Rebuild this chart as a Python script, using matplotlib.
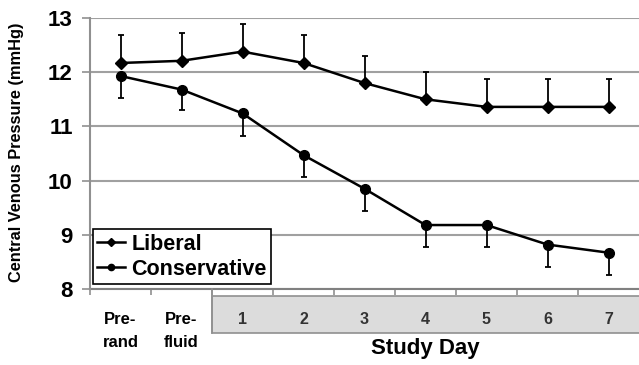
import numpy as np
import matplotlib
matplotlib.use("Agg")
from matplotlib import pyplot as plt
from matplotlib.lines import Line2D
from matplotlib.patches import Rectangle
from matplotlib.transforms import blended_transform_factory

categories = ["Pre-\nrand", "Pre-\nfluid", "1", "2", "3", "4", "5", "6", "7"]
liberal = [12.17, 12.21, 12.38, 12.17, 11.80, 11.50, 11.36, 11.36, 11.36]
liberal_err = [0.52, 0.51, 0.51, 0.52, 0.50, 0.51, 0.51, 0.51, 0.51]
conservative = [11.93, 11.68, 11.24, 10.47, 9.85, 9.18, 9.18, 8.82, 8.67]
conservative_err = [0.41, 0.38, 0.41, 0.40, 0.41, 0.40, 0.40, 0.41, 0.42]

plt.rcParams['font.family'] = ['Liberation Sans', 'DejaVu Sans']
plt.rcParams['font.weight'] = 'bold'

fig = plt.figure(figsize=(6.39, 3.65), dpi=100)
ax = fig.add_axes([90/639, 76/365, 549/639, 271/365])

x = np.arange(len(categories)) + 0.5
zeros = np.zeros(len(x))

# liberal: upper bars only, conservative: lower bars only
ax.errorbar(x, liberal, yerr=[zeros, liberal_err], color="black", lw=1.8,
            marker="D", ms=6, capsize=2.5, elinewidth=1.3, capthick=1.3, zorder=3)
ax.errorbar(x, conservative, yerr=[conservative_err, zeros], color="black", lw=1.8,
            marker="o", ms=7, capsize=2.5, elinewidth=1.3, capthick=1.3, zorder=3)

ax.set_xlim(0, 9)
ax.set_ylim(8, 13)
ax.set_yticks([8, 9, 10, 11, 12, 13])
ax.yaxis.grid(True, color="#a0a0a0", lw=1.5)
ax.set_axisbelow(True)
for s in ["top", "right", "bottom"]:
    ax.spines[s].set_visible(False)
ax.spines["left"].set_color("#909090")
ax.spines["left"].set_linewidth(1.5)
ax.axhline(8, color="#808080", lw=1.5, clip_on=False, zorder=2)
ax.tick_params(axis="y", length=5.5, width=1.2, color="#909090", pad=7, labelsize=16)
for lab in ax.get_yticklabels():
    lab.set_fontweight("bold")

# category boundary ticks
ax.set_xticks(np.arange(0, 9))
ax.set_xticklabels([])
ax.tick_params(axis="x", length=4.5, width=1.2, color="#909090", direction="out")

# shaded study-day band
trans = blended_transform_factory(ax.transData, ax.transAxes)
ax.add_patch(Rectangle((2, -0.162), 7.2, 0.136, transform=trans, clip_on=False,
                       facecolor="#dcdcdc", edgecolor="#909090", lw=1.2))
ax.plot([2, 2], [0, -0.162], transform=trans, color="#909090", lw=1.2, clip_on=False)

for xi, lab in zip(x, categories):
    if "\n" in lab:
        top, bot = lab.split("\n")
        ax.text(xi, -0.111, top, transform=trans, ha="center", va="center",
                fontsize=12, fontweight="bold")
        ax.text(xi, -0.199, bot, transform=trans, ha="center", va="center",
                fontsize=12, fontweight="bold")
    else:
        ax.text(xi, -0.114, lab, transform=trans, ha="center", va="center",
                fontsize=11.5, fontweight="bold", color="#333333")

ax.text(5.5, -0.218, "Study Day", transform=trans, ha="center", va="center",
        fontsize=16, fontweight="bold")
fig.text(17/639, 1 - 152/365, "Central Venous Pressure (mmHg)", rotation=90,
         ha="center", va="center", fontsize=11.8, fontweight="bold")

handles = [Line2D([], [], color="black", lw=1.8, marker="D", ms=4),
           Line2D([], [], color="black", lw=1.8, marker="o", ms=4.5)]
leg = ax.legend(handles, ["Liberal", "Conservative"], loc="lower left",
                bbox_to_anchor=(0.005, 0.018), borderaxespad=0,
                fancybox=False, edgecolor="black", framealpha=1, handlelength=1.3,
                handletextpad=0.3, labelspacing=0.2, borderpad=0.2,
                prop={"size": 15.5, "weight": "bold"})
leg.get_frame().set_linewidth(1.2)

fig.savefig("out.png", dpi=100)
